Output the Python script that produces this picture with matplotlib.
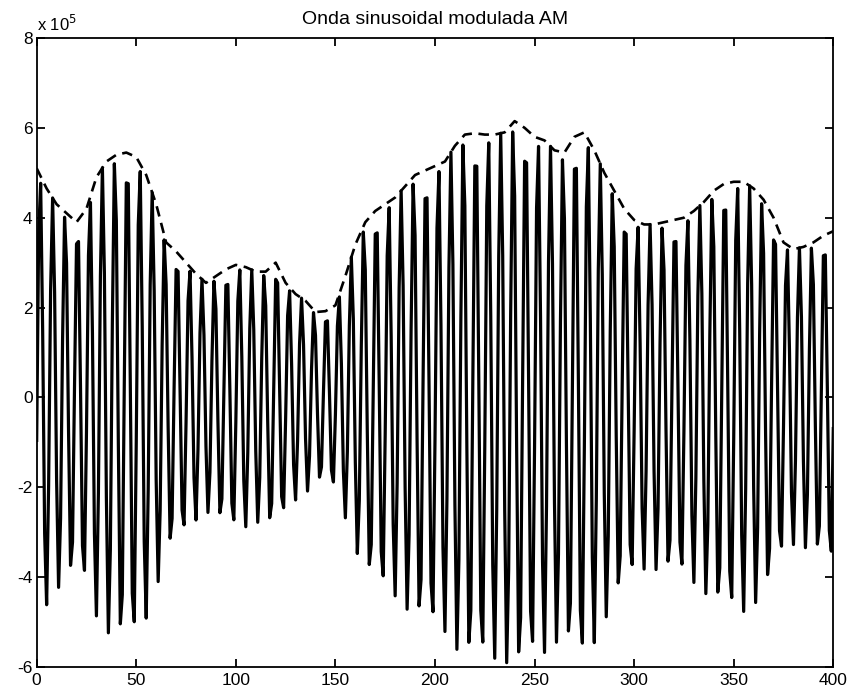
# libraries
import numpy as np
import matplotlib.pyplot as plt

plt.rcParams['font.family'] = ['Liberation Sans', 'DejaVu Sans']
plt.rcParams['axes.unicode_minus'] = False

# data: envelope (dashed line) read every 5 samples, in units of 1e5
env_x = list(range(0, 401, 5))
env_y = [5.1, 4.65, 4.3, 4.1, 3.9, 4.2, 4.9, 5.25, 5.4, 5.45,
         5.35, 4.95, 4.3, 3.45, 3.25, 3.0, 2.75, 2.55, 2.7, 2.85,
         2.95, 2.9, 2.8, 2.8, 3.0, 2.55, 2.3, 2.15, 1.9, 1.92,
         2.05, 2.7, 3.4, 3.9, 4.15, 4.3, 4.45, 4.7, 4.95, 5.05,
         5.15, 5.25, 5.6, 5.85, 5.88, 5.85, 5.85, 5.9, 6.15, 6.0,
         5.8, 5.72, 5.5, 5.45, 5.8, 5.9, 5.5, 5.0, 4.6, 4.2,
         3.95, 3.85, 3.85, 3.9, 3.95, 4.0, 4.15, 4.35, 4.6, 4.75,
         4.8, 4.8, 4.65, 4.4, 4.0, 3.45, 3.3, 3.35, 3.45, 3.6,
         3.7]
scale = 1e5

# carrier: period in samples and position of the first crest
carrier_period = 6.25
carrier_shift = 1.75

y_ticks = [-6, -4, -2, 0, 2, 4, 6, 8]
x_ticks = [0, 50, 100, 150, 200, 250, 300, 350, 400]

# modulated wave at every sample
n = np.arange(0, 401)
env = np.interp(n, env_x, env_y) * scale
wave = env * np.cos(2 * np.pi * (n - carrier_shift) / carrier_period)

# figure
fig = plt.figure(figsize=(8.51, 6.92), dpi=100)
ax = fig.add_axes([0.0431, 0.0361, 0.9361, 0.9090])

ax.plot(n, wave, color='black', linewidth=2.3)
ax.plot(env_x, np.array(env_y) * scale, color='black', linewidth=1.9,
        linestyle=(0, (4, 2.5)))

ax.set_xlim(0, 400)
ax.set_ylim(-6 * scale, 8 * scale)
ax.set_xticks(x_ticks)
ax.set_xticklabels([str(v) for v in x_ticks])
ax.set_yticks([v * scale for v in y_ticks])
ax.set_yticklabels([str(v) for v in y_ticks])
ax.tick_params(direction='in', length=6, width=1.3, labelsize=12.5,
               top=True, right=True)
ax.tick_params(axis='x', pad=4)
ax.tick_params(axis='y', pad=3)
for s in ax.spines.values():
    s.set_linewidth(1.3)

ax.set_title('Onda sinusoidal modulada AM', fontsize=14, pad=10)
ax.text(0, 1.006, r'x 10$^{5}$', transform=ax.transAxes, fontsize=12,
        ha='left', va='bottom')

fig.savefig('out.png', dpi=100)
